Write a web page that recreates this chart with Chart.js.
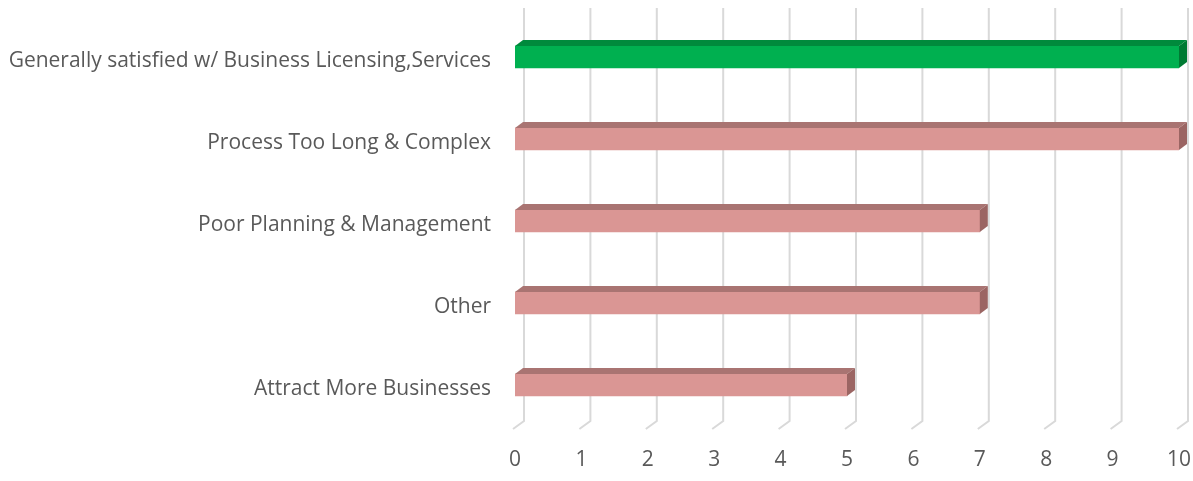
<!DOCTYPE html>
<html>
<head>
<meta charset="utf-8">
<script src="https://cdn.jsdelivr.net/npm/chart.js@4/dist/chart.umd.min.js"></script>
<style>
  html, body { margin: 0; padding: 0; background: #fff; overflow: hidden; }
  canvas { display: block; }
</style>
</head>
<body>
<canvas id="chart" width="1193" height="481"></canvas>
<script>
var categories = [
    "Generally satisfied w/ Business Licensing,Services",
    "Process Too Long & Complex",
    "Poor Planning & Management",
    "Other",
    "Attract More Businesses"
];
var counts = [10, 10, 7, 7, 5];
var tickValues = [0, 1, 2, 3, 4, 5, 6, 7, 8, 9, 10];

// front / top / side shades for each bar
var frontColors = ["#00b050", "#da9694", "#da9694", "#da9694", "#da9694"];
var topColors   = ["#008a3c", "#a97472", "#a97472", "#a97472", "#a97472"];
var sideColors  = ["#007a33", "#9b6563", "#9b6563", "#9b6563", "#9b6563"];

var DEPTH_X = 8, DEPTH_Y = 6;

// back-wall gridlines plus the little floor diagonals
var wallGrid = {
    id: "wallGrid",
    beforeDatasetsDraw: function(chart) {
        var ctx = chart.ctx;
        var xs = chart.scales.x;
        var area = chart.chartArea;
        ctx.save();
        ctx.strokeStyle = "#d9d9d9";
        ctx.lineWidth = 2;
        tickValues.forEach(function(v) {
            var px = xs.getPixelForValue(v);
            ctx.beginPath();
            ctx.moveTo(px + 9, 8);
            ctx.lineTo(px + 9, area.bottom - 5);
            ctx.lineTo(px - 2, area.bottom + 3);
            ctx.stroke();
        });
        ctx.restore();
    }
};

// top and right faces so the bars look extruded
var barFaces = {
    id: "barFaces",
    afterDatasetsDraw: function(chart) {
        var ctx = chart.ctx;
        var meta = chart.getDatasetMeta(0);
        ctx.save();
        meta.data.forEach(function(bar, i) {
            var p = bar.getProps(["x", "y", "base", "height"], true);
            var top = p.y - p.height / 2;
            var bottom = p.y + p.height / 2;
            var left = p.base, right = p.x;

            ctx.fillStyle = topColors[i];
            ctx.beginPath();
            ctx.moveTo(left, top);
            ctx.lineTo(left + DEPTH_X, top - DEPTH_Y);
            ctx.lineTo(right + DEPTH_X, top - DEPTH_Y);
            ctx.lineTo(right, top);
            ctx.closePath();
            ctx.fill();

            ctx.fillStyle = sideColors[i];
            ctx.beginPath();
            ctx.moveTo(right, top);
            ctx.lineTo(right + DEPTH_X, top - DEPTH_Y);
            ctx.lineTo(right + DEPTH_X, bottom - DEPTH_Y);
            ctx.lineTo(right, bottom);
            ctx.closePath();
            ctx.fill();
        });
        ctx.restore();
    }
};

var labelFont = { family: "'Open Sans', sans-serif", size: 21 };

new Chart(document.getElementById("chart"), {
    type: "bar",
    data: {
        labels: categories,
        datasets: [{
            data: counts,
            backgroundColor: frontColors,
            borderWidth: 0,
            barThickness: 22
        }]
    },
    options: {
        indexAxis: "y",
        responsive: false,
        animation: false,
        layout: { padding: { top: 16, right: 14, bottom: 0, left: 10 } },
        plugins: {
            legend: { display: false },
            tooltip: { enabled: false }
        },
        scales: {
            x: {
                min: 0,
                max: 10,
                afterBuildTicks: function(scale) {
                    scale.ticks = tickValues.map(function(v) { return { value: v }; });
                },
                afterFit: function(scale) { scale.height = 55; },
                // the tick length only spaces the labels; the marks themselves stay hidden
                grid: { display: false, drawTicks: true, tickLength: 21 },
                border: { display: false },
                ticks: { color: "#595959", font: labelFont, padding: 0, maxRotation: 0 }
            },
            y: {
                afterFit: function(scale) { scale.width = 505; },
                grid: { display: false, drawTicks: true, tickLength: 24 },
                border: { display: false },
                ticks: { color: "#595959", font: labelFont, padding: 0, labelOffset: 4 }
            }
        }
    },
    plugins: [wallGrid, barFaces]
});
</script>
</body>
</html>
